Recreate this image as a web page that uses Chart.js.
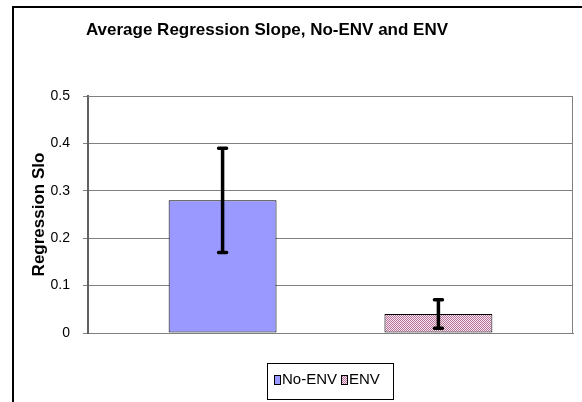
<!DOCTYPE html>
<html>
<head>
<meta charset="utf-8">
<script src="https://cdn.jsdelivr.net/npm/chart.js@4/dist/chart.umd.min.js"></script>
<style>
  html, body { margin: 0; padding: 0; background: #fff; }
  canvas { display: block; }
</style>
</head>
<body>
<canvas id="chart" width="582" height="402"></canvas>
<script>
/* ── Data ── */
const categories = [''];
const seriesNames = ['No-ENV', 'ENV'];
const seriesValues = [0.28, 0.04];
const seriesErrors = [0.11, 0.03];
const yTicks = [0, 0.1, 0.2, 0.3, 0.4, 0.5];

const chartTitle = 'Average Regression Slope, No-ENV and ENV';
const yTitle = 'Regression Slo';

// checker pattern for the ENV bar
function checker(c1, c2) {
  const p = document.createElement('canvas');
  p.width = 2; p.height = 2;
  const g = p.getContext('2d');
  g.fillStyle = c2; g.fillRect(0, 0, 2, 2);
  g.fillStyle = c1; g.fillRect(0, 0, 1, 1); g.fillRect(1, 1, 1, 1);
  return g.createPattern(p, 'repeat');
}

const ctx = document.getElementById('chart').getContext('2d');
const fills = ['#9999ff', checker('#b87098', '#f6e8f0')];

// frame, title, error bars and legend box
const decor = {
  id: 'decor',
  beforeDraw(chart) {
    const c = chart.ctx;
    c.save();
    c.fillStyle = '#fff';
    c.fillRect(0, 0, chart.width, chart.height);
    c.strokeStyle = '#000';
    c.lineWidth = 2;
    c.beginPath();
    c.moveTo(13, chart.height);
    c.lineTo(13, 7);
    c.lineTo(chart.width, 7);
    c.stroke();
    c.fillStyle = '#000';
    c.font = "bold 17px 'Liberation Sans', Arial, sans-serif";
    c.textAlign = 'center';
    c.textBaseline = 'middle';
    c.fillText(chartTitle, 267, 30);
    c.restore();
  },
  afterDatasetsDraw(chart) {
    const c = chart.ctx;
    const y = chart.scales.y;
    c.save();
    c.strokeStyle = '#000';
    c.lineWidth = 3.5;
    c.lineCap = 'round';
    chart.data.datasets.forEach((ds, i) => {
      const bar = chart.getDatasetMeta(i).data[0];
      const v = seriesValues[i], e = seriesErrors[i];
      const top = y.getPixelForValue(v + e);
      const bot = y.getPixelForValue(v - e);
      c.beginPath();
      c.moveTo(bar.x, top); c.lineTo(bar.x, bot);
      c.moveTo(bar.x - 4, top); c.lineTo(bar.x + 4, top);
      c.moveTo(bar.x - 4, bot); c.lineTo(bar.x + 4, bot);
      c.stroke();
    });
    c.restore();
  },
  afterDraw(chart) {
    const c = chart.ctx;
    const a = chart.chartArea;
    c.save();
    // plot border
    c.strokeStyle = '#808080';
    c.lineWidth = 1;
    c.beginPath();
    c.moveTo(a.left, a.top + 0.5); c.lineTo(a.right - 0.5, a.top + 0.5);
    c.lineTo(a.right - 0.5, a.bottom);
    c.stroke();
    // legend
    c.strokeStyle = '#000';
    c.strokeRect(267.5, 363.5, 126, 36);
    c.font = "15px 'Liberation Sans', Arial, sans-serif";
    c.textBaseline = 'middle';
    let x = 274;
    seriesNames.forEach((name, i) => {
      c.fillStyle = fills[i];
      c.fillRect(x, 375, 6, 9);
      c.strokeStyle = '#000';
      c.strokeRect(x + 0.5, 375.5, 6, 9);
      c.fillStyle = '#000';
      c.fillText(name, x + 8, 380);
      x += 8 + c.measureText(name).width + 4;
    });
    c.restore();
  }
};

new Chart(ctx, {
  type: 'bar',
  data: {
    labels: categories,
    datasets: seriesNames.map((name, i) => ({
      label: name,
      data: [seriesValues[i]],
      backgroundColor: fills[i],
      borderColor: '#000',
      borderWidth: 1,
      borderSkipped: false,
      barPercentage: 0.5,
      categoryPercentage: 0.89,
    })),
  },
  options: {
    responsive: false,
    animation: false,
    layout: { padding: { left: 25, right: 9, top: 96, bottom: 0 } },
    plugins: {
      legend: { display: false },
      title: { display: false },
      tooltip: { enabled: false },
    },
    scales: {
      x: {
        grid: { display: false },
        ticks: { display: false },
        border: { color: '#808080', width: 1 },
        afterFit: s => { s.height = 69; },
      },
      y: {
        min: 0,
        max: 0.5,
        afterBuildTicks: s => { s.ticks = yTicks.map(v => ({ value: v })); },
        ticks: {
          color: '#000',
          padding: 13,
          font: { family: "'Liberation Sans', Arial", size: 14 },
          callback: v => String(v),
        },
        grid: { color: '#808080', tickLength: 5, drawTicks: true },
        border: { color: '#606060', width: 2 },
        title: {
          display: true,
          text: yTitle,
          color: '#000',
          font: { family: "'Liberation Sans', Arial", size: 17, weight: 'bold' },
          padding: { top: 4, bottom: 4 },
        },
        afterFit: s => { s.width = 63; },
      },
    },
  },
  plugins: [decor],
});
</script>
</body>
</html>
